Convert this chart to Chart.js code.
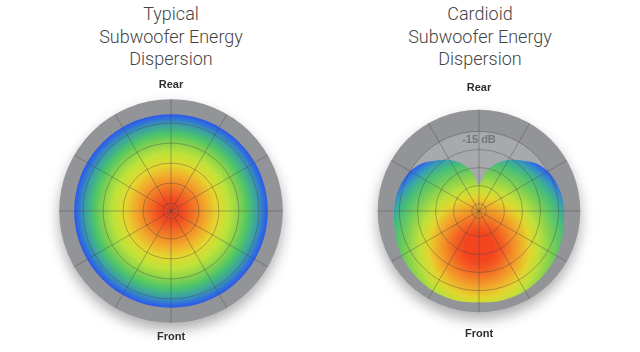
<!DOCTYPE html>
<html>
<head>
<meta charset="utf-8">
<script src="https://cdn.jsdelivr.net/npm/chart.js@4.4.1/dist/chart.umd.min.js"></script>
<style>
  html, body { margin: 0; padding: 0; background: #fff; }
  body { width: 640px; height: 352px; position: relative; overflow: hidden; }
  .titulo {
    position: absolute; top: 3px; width: 240px; text-align: center;
    font-family: Roboto, "Liberation Sans", sans-serif; font-weight: 300;
    font-size: 18px; line-height: 22.5px; color: #444;
  }
  .caixa { position: absolute; }
</style>
</head>
<body>
<div class="titulo" style="left:51px">Typical<br>Subwoofer Energy<br>Dispersion</div>
<div class="titulo" style="left:360px">Cardioid<br>Subwoofer Energy<br>Dispersion</div>
<div class="caixa" style="left:46px;top:78px;width:250px;height:266px"><canvas id="graficoTipico"></canvas></div>
<div class="caixa" style="left:349px;top:81px;width:261px;height:261px"><canvas id="graficoCardioide"></canvas></div>
<script>
// direções em graus (0 = traseira, sentido horário)
const angulos = [0, 10, 20, 30, 40, 50, 60, 70, 80, 90, 100, 110,
  120, 130, 140, 150, 160, 170, 180, 190, 200, 210, 220, 230,
  240, 250, 260, 270, 280, 290, 300, 310, 320, 330, 340, 350];
const direcoes = { 0: "Rear", 180: "Front" };

// nível relativo (raio), escala 0..112
const nivelMaximo = 112;
const aneis = [0, 8, 28, 48, 68, 88];
const dispersaoTipica = [97, 97, 97, 97, 97, 97, 97, 97, 97, 97, 97, 97,
  97, 97, 97, 97, 97, 97, 97, 97, 97, 97, 97, 97,
  97, 97, 97, 97, 97, 97, 97, 97, 97, 97, 97, 97];
const dispersaoCardioide = [29, 44, 56, 65, 73, 82, 88, 91, 93, 94, 95, 97,
  99, 100, 101, 102, 102, 102, 101, 102, 102, 102, 101, 100,
  99, 97, 95, 94, 93, 91, 88, 82, 73, 65, 56, 44];

// rótulo do anel no cardióide
const marcaRotulo = 78;
const textoRotulo = "-15 dB";
const discoInterno = 88;

const corGrade = "rgba(70, 70, 76, 0.4)";

const paradasTipica = [
  [0, "#f23c1e"], [0.12, "#f24a20"], [0.25, "#f27a26"], [0.36, "#f2a82b"],
  [0.48, "#e4d82e"], [0.6, "#bde33a"], [0.7, "#8bd44a"], [0.8, "#4cc46a"],
  [0.9, "#399cac"], [0.96, "#3170da"], [1, "#2a58ea"],
];
const paradasCardioide = [
  [0, "#f4421e"], [0.14, "#f4441f"], [0.23, "#f45e22"], [0.33, "#f38a27"],
  [0.42, "#f1b02b"], [0.5, "#e2d62e"], [0.59, "#bfe03a"], [0.72, "#7ccf54"],
  [0.84, "#48be78"], [0.91, "#3aa6a6"], [0.96, "#3386d2"], [1, "#2e66e4"],
];

function gradienteRadial(paradas, deslocamento, raio) {
  return (context) => {
    const grafico = context.chart;
    const escala = grafico.scales.r;
    if (!escala || !escala.drawingArea) return paradas[0][1];
    const cx = escala.xCenter;
    const cy = escala.yCenter + escala.drawingArea * deslocamento;
    const r = escala.getDistanceFromCenterForValue(raio);
    const g = grafico.ctx.createRadialGradient(cx, cy, 0, cx, cy, r);
    paradas.forEach(([pos, cor]) => g.addColorStop(pos, cor));
    return g;
  };
}

// disco cinza de fundo (com sombra) e disco interno mais claro
const fundoPolar = {
  id: "fundoPolar",
  beforeDatasetsDraw(chart, args, opts) {
    const escala = chart.scales.r;
    const ctx = chart.ctx;
    ctx.save();
    ctx.shadowColor = "rgba(0, 0, 0, 0.32)";
    ctx.shadowBlur = 14;
    ctx.shadowOffsetY = 7;
    ctx.fillStyle = "#939498";
    ctx.beginPath();
    ctx.arc(escala.xCenter, escala.yCenter, escala.drawingArea, 0, Math.PI * 2);
    ctx.fill();
    ctx.restore();
    if (opts.interno) {
      ctx.save();
      ctx.fillStyle = "#a8a9ad";
      ctx.beginPath();
      ctx.arc(escala.xCenter, escala.yCenter,
        escala.getDistanceFromCenterForValue(opts.interno), 0, Math.PI * 2);
      ctx.fill();
      ctx.restore();
    }
  },
};

function criaGrafico(canvas, dados, paradas, deslocamento, raioGradiente, comRotulo) {
  const marcas = comRotulo ? [...aneis.slice(0, 5), marcaRotulo, aneis[5]] : aneis;
  return new Chart(canvas, {
    type: "radar",
    data: {
      labels: angulos,
      datasets: [
        {
          data: dados,
          fill: "origin",
          backgroundColor: gradienteRadial(paradas, deslocamento, raioGradiente),
          borderWidth: 0,
          tension: comRotulo ? 0.3 : 0.335,
          pointRadius: 0,
          pointHoverRadius: 0,
        },
      ],
    },
    plugins: [fundoPolar],
    options: {
      responsive: true,
      maintainAspectRatio: false,
      animation: false,
      events: [],
      plugins: {
        legend: { display: false },
        tooltip: { enabled: false },
        fundoPolar: { interno: comRotulo ? discoInterno : 0 },
      },
      scales: {
        r: {
          min: 0,
          max: nivelMaximo,
          afterBuildTicks: (escala) => {
            escala.ticks = marcas.map((v) => ({ value: v }));
          },
          grid: {
            circular: true,
            z: 1,
            color: corGrade,
            lineWidth: (ctx) => (ctx.tick && ctx.tick.value === marcaRotulo ? 0 : 1),
          },
          angleLines: {
            color: corGrade,
            lineWidth: (ctx) => (ctx.index % 3 === 0 ? 1 : 0),
          },
          ticks: {
            display: comRotulo,
            z: 1,
            showLabelBackdrop: false,
            color: "rgba(110, 112, 118, 0.9)",
            font: { family: "'Liberation Sans', Arial, sans-serif", size: 11, weight: "bold" },
            callback: (valor) => (valor === marcaRotulo ? textoRotulo : ""),
          },
          pointLabels: {
            padding: 8,
            color: "#2e2e2e",
            font: { family: "'Liberation Sans', Arial, sans-serif", size: 11, weight: "bold" },
            callback: (angulo) => direcoes[angulo] || "",
          },
        },
      },
    },
  });
}

const graficoTipico = criaGrafico(
  document.getElementById("graficoTipico"),
  dispersaoTipica, paradasTipica, 0, 97, false
);

const graficoCardioide = criaGrafico(
  document.getElementById("graficoCardioide"),
  dispersaoCardioide, paradasCardioide, 0.36, 112, true
);
</script>
</body>
</html>
